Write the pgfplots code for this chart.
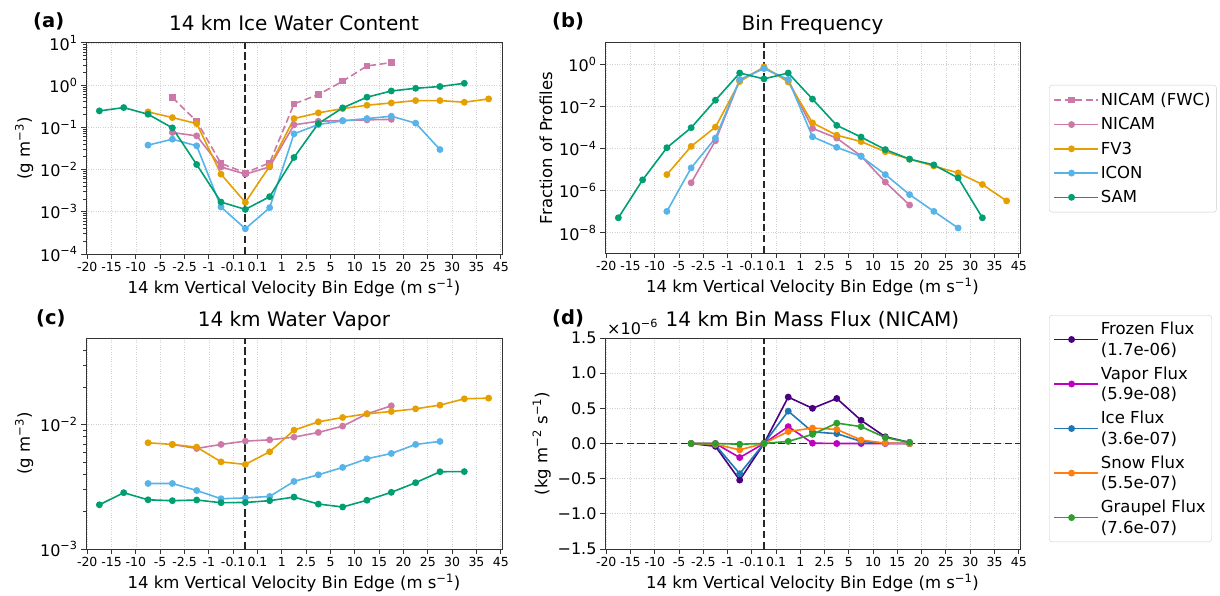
\documentclass[border=0pt]{standalone}
\usepackage{fontspec}
\setmainfont{DejaVu Sans}
\usepackage{pgfplots}
\pgfplotsset{compat=1.18}

\definecolor{cNICAM}{HTML}{CC79A7}
\definecolor{cFV}{HTML}{E69F00}
\definecolor{cICON}{HTML}{56B4E9}
\definecolor{cSAM}{HTML}{009E73}
\definecolor{cFrozen}{HTML}{4B0082}
\definecolor{cVapor}{HTML}{BF00BF}
\definecolor{cIce}{HTML}{1F77B4}
\definecolor{cSnow}{HTML}{FF7F0E}
\definecolor{cGraupel}{HTML}{2CA02C}

\newcommand{\ticksmall}{\fontsize{12.5}{15}\selectfont}
\newcommand{\tickbig}{\fontsize{16}{19}\selectfont}
\newcommand{\labfont}{\fontsize{16.5}{20}\selectfont}
\newcommand{\titfont}{\fontsize{20}{24}\selectfont}
\newcommand{\panfont}{\fontsize{19.5}{23}\selectfont\bfseries}

\pgfplotsset{
  panel/.style={
    scale only axis, anchor=south west,
    xmin=-0.05, xmax=17.05,
    xtick={0,...,17},
    xticklabels={-20,-15,-10,-5,-2.5,-1,-0.1,0.1,1,2.5,5,10,15,20,25,30,35,45},
    x tick label style={font=\ticksmall},
    y tick label style={font=\tickbig},
    label style={font=\labfont},
    title style={font=\titfont, at={(0.5,1)}, anchor=base, yshift=6pt},
    xlabel={14 km Vertical Velocity Bin Edge (m s\textsuperscript{−1})},
    grid=major,
    major grid style={dotted, black!18, line width=0.7pt},
    axis line style={black!80, line width=1pt},
    every tick/.style={black!80, line width=1pt},
    tick align=outside, tick pos=left,
    major tick length=5pt, minor tick length=3pt,
    every axis plot/.append style={line width=1.6pt, mark=*, mark size=2.6pt, mark options={solid}},
    /pgf/number format/assume math mode=true,
    legend cell align=left,
    legend image code/.code={\draw[mark repeat=2,mark phase=2,##1] plot coordinates {(0pt,0pt)(17.5pt,0pt)(35pt,0pt)}; \path (0pt,0pt) -- (44pt,0pt);},
    legend style={font=\labfont, draw=black!20, rounded corners=3pt, fill=white,
      anchor=north west, row sep=6.5pt, inner xsep=4pt, inner ysep=6pt},
  },
  vline/.style={black!85, line width=1.8pt, dash pattern=on 7.5pt off 3.3pt, mark=none, forget plot},
}

\begin{document}
\begin{tikzpicture}
\useasboundingbox (0,0) rectangle (1220pt,595pt);

% ---------------- (a)
\begin{axis}[panel, at={(86pt,341pt)}, width=416pt, height=211pt,
  ymode=log, ymin=1e-4, ymax=10,
  ytick={1e-4,1e-3,1e-2,1e-1,1,10},
  yticklabels={10\textsuperscript{−4},10\textsuperscript{−3},10\textsuperscript{−2},10\textsuperscript{−1},10\textsuperscript{0},10\textsuperscript{1}},
  minor ytick={2e-4,3e-4,4e-4,5e-4,6e-4,7e-4,8e-4,9e-4,2e-3,3e-3,4e-3,5e-3,6e-3,7e-3,8e-3,9e-3,0.02,0.03,0.04,0.05,0.06,0.07,0.08,0.09,0.2,0.3,0.4,0.5,0.6,0.7,0.8,0.9,2,3,4,5,6,7,8,9},
  ylabel={(g m\textsuperscript{−3})},
  title={14 km Ice Water Content},
  legend style={at={(2.315,0.801)}},
]
\addplot[vline] coordinates {(6.5,1e-4) (6.5,10)};
\addplot[cNICAM, dash pattern=on 7pt off 3.5pt, mark=square*, mark size=2.4pt] coordinates {
(3.5,0.509) (4.5,0.14) (5.5,0.014) (6.5,0.0084) (7.5,0.0145) (8.5,0.36) (9.5,0.6) (10.5,1.24) (11.5,2.86) (12.5,3.43)};
\addlegendentry{NICAM (FWC)}
\addplot[cNICAM] coordinates {
(3.5,0.0756) (4.5,0.063) (5.5,0.0116) (6.5,0.0078) (7.5,0.0116) (8.5,0.115) (9.5,0.14) (10.5,0.145) (11.5,0.151) (12.5,0.155)};
\addlegendentry{NICAM}
\addplot[cFV] coordinates {
(2.5,0.233) (3.5,0.171) (4.5,0.123) (5.5,0.0078) (6.5,0.00167) (7.5,0.0121) (8.5,0.162) (9.5,0.221) (10.5,0.279) (11.5,0.335) (12.5,0.38) (13.5,0.432) (14.5,0.432) (15.5,0.395) (16.5,0.473)};
\addlegendentry{FV3}
\addplot[cICON] coordinates {
(2.5,0.038) (3.5,0.0526) (4.5,0.0366) (5.5,0.0013) (6.5,0.000397) (7.5,0.00125) (8.5,0.0703) (9.5,0.117) (10.5,0.143) (11.5,0.162) (12.5,0.184) (13.5,0.126) (14.5,0.0299)};
\addlegendentry{ICON}
\addplot[cSAM] coordinates {
(0.5,0.246) (1.5,0.295) (2.5,0.205) (3.5,0.0975) (4.5,0.0132) (5.5,0.0017) (6.5,0.00114) (7.5,0.00228) (8.5,0.0194) (9.5,0.123) (10.5,0.29) (11.5,0.52) (12.5,0.73) (13.5,0.845) (14.5,0.93) (15.5,1.11)};
\addlegendentry{SAM}
\end{axis}

% ---------------- (b)
\begin{axis}[panel, at={(605pt,342pt)}, width=415pt, height=210pt,
  ymode=log, ymin=1.1e-9, ymax=10.7,
  ytick={1e-8,1e-6,1e-4,1e-2,1},
  yticklabels={10\textsuperscript{−8},10\textsuperscript{−6},10\textsuperscript{−4},10\textsuperscript{−2},10\textsuperscript{0}},
  ylabel={Fraction of Profiles},
  title={Bin Frequency},
]
\addplot[vline] coordinates {(6.5,1.1e-9) (6.5,10.7)};
\addplot[cNICAM] coordinates {
(3.5,2.4e-6) (4.5,2.4e-4) (5.5,0.18) (6.5,0.7) (7.5,0.18) (8.5,9.3e-4) (9.5,3.2e-4) (10.5,4.5e-5) (11.5,2.6e-6) (12.5,2.1e-7)};
\addplot[cFV] coordinates {
(2.5,5.9e-6) (3.5,1.3e-4) (4.5,1.07e-3) (5.5,0.156) (6.5,0.78) (7.5,0.15) (8.5,1.7e-3) (9.5,4.4e-4) (10.5,2.2e-4) (11.5,7.2e-5) (12.5,3.2e-5) (13.5,1.5e-5) (14.5,7.1e-6) (15.5,2.0e-6) (16.5,3.3e-7)};
\addplot[cICON] coordinates {
(2.5,1.05e-7) (3.5,1.23e-5) (4.5,3.2e-4) (5.5,0.195) (6.5,0.65) (7.5,0.195) (8.5,3.7e-4) (9.5,1.17e-4) (10.5,4.3e-5) (11.5,5.9e-6) (12.5,6.6e-7) (13.5,1.05e-7) (14.5,1.7e-8)};
\addplot[cSAM] coordinates {
(0.5,5.2e-8) (1.5,3.3e-6) (2.5,1.12e-4) (3.5,1e-3) (4.5,0.0204) (5.5,0.40) (6.5,0.21) (7.5,0.40) (8.5,0.023) (9.5,1.29e-3) (10.5,3.6e-4) (11.5,9.1e-5) (12.5,3.2e-5) (13.5,1.7e-5) (14.5,4.1e-6) (15.5,5.2e-8)};
\end{axis}

% ---------------- (c)
\begin{axis}[panel, at={(86pt,46pt)}, width=416pt, height=211pt,
  ymode=log, ymin=1e-3, ymax=0.05,
  ytick={1e-3,1e-2},
  yticklabels={10\textsuperscript{−3},10\textsuperscript{−2}},
  minor ytick={2e-3,3e-3,4e-3,5e-3,6e-3,7e-3,8e-3,9e-3,0.02,0.03,0.04},
  ylabel={(g m\textsuperscript{−3})},
  title={14 km Water Vapor},
]
\addplot[vline] coordinates {(6.5,1e-3) (6.5,0.05)};
\addplot[cNICAM] coordinates {
(3.5,6.95e-3) (4.5,6.45e-3) (5.5,6.95e-3) (6.5,7.39e-3) (7.5,7.57e-3) (8.5,7.96e-3) (9.5,8.68e-3) (10.5,9.76e-3) (11.5,0.01226) (12.5,0.01422)};
\addplot[cFV] coordinates {
(2.5,7.17e-3) (3.5,6.95e-3) (4.5,6.61e-3) (5.5,5.03e-3) (6.5,4.80e-3) (7.5,6.07e-3) (8.5,9.06e-3) (9.5,0.01057) (10.5,0.01146) (11.5,0.01226) (12.5,0.0128) (13.5,0.01345) (14.5,0.0144) (15.5,0.0162) (16.5,0.0164)};
\addplot[cICON] coordinates {
(2.5,3.37e-3) (3.5,3.37e-3) (4.5,2.96e-3) (5.5,2.54e-3) (6.5,2.58e-3) (7.5,2.65e-3) (8.5,3.50e-3) (9.5,3.96e-3) (10.5,4.54e-3) (11.5,5.33e-3) (12.5,5.88e-3) (13.5,6.95e-3) (14.5,7.35e-3)};
\addplot[cSAM] coordinates {
(0.5,2.27e-3) (1.5,2.84e-3) (2.5,2.49e-3) (3.5,2.45e-3) (4.5,2.48e-3) (5.5,2.36e-3) (6.5,2.37e-3) (7.5,2.45e-3) (8.5,2.62e-3) (9.5,2.30e-3) (10.5,2.18e-3) (11.5,2.47e-3) (12.5,2.86e-3) (13.5,3.42e-3) (14.5,4.19e-3) (15.5,4.2e-3)};
\end{axis}

% ---------------- (d)
\begin{axis}[panel, name=d, at={(605pt,46pt)}, width=415pt, height=211pt,
  ymin=-1.5, ymax=1.5,
  ytick={-1.5,-1,-0.5,0,0.5,1,1.5},
  yticklabels={−1.5,−1.0,−0.5,0.0,0.5,1.0,1.5},
  ylabel={(kg m\textsuperscript{−2} s\textsuperscript{−1})},
  title={14 km Bin Mass Flux (NICAM)},
  legend style={at={(1.07,1.109)}, cells={align=left}, row sep=6pt, inner ysep=5pt, font=\fontsize{16.5}{20.5}\selectfont},
]
\addplot[vline] coordinates {(6.5,-1.5) (6.5,1.5)};
\addplot[vline] coordinates {(-0.05,0) (17.05,0)};
\addplot[cFrozen] coordinates {
(3.5,0) (4.5,-0.04) (5.5,-0.52) (6.5,0) (7.5,0.66) (8.5,0.50) (9.5,0.64) (10.5,0.33) (11.5,0.095) (12.5,0.015)};
\addlegendentry{Frozen Flux\\(1.7e-06)}
\addplot[cVapor] coordinates {
(3.5,0) (4.5,0) (5.5,-0.20) (6.5,0) (7.5,0.24) (8.5,0.005) (9.5,0) (10.5,0) (11.5,0) (12.5,0)};
\addlegendentry{Vapor Flux\\(5.9e-08)}
\addplot[cIce] coordinates {
(3.5,0) (4.5,-0.02) (5.5,-0.43) (6.5,0) (7.5,0.46) (8.5,0.165) (9.5,0.14) (10.5,0.03) (11.5,0.003) (12.5,0)};
\addlegendentry{Ice Flux\\(3.6e-07)}
\addplot[cSnow] coordinates {
(3.5,0) (4.5,-0.01) (5.5,-0.09) (6.5,0) (7.5,0.17) (8.5,0.22) (9.5,0.20) (10.5,0.05) (11.5,0.005) (12.5,0)};
\addlegendentry{Snow Flux\\(5.5e-07)}
\addplot[cGraupel] coordinates {
(3.5,0) (4.5,0) (5.5,-0.01) (6.5,0) (7.5,0.03) (8.5,0.13) (9.5,0.29) (10.5,0.24) (11.5,0.085) (12.5,0.015)};
\addlegendentry{Graupel Flux\\(7.6e-07)}
\end{axis}
\node[anchor=base west, font=\tickbig, inner sep=0pt] at ([xshift=2pt,yshift=4pt]d.north west) {×10\textsuperscript{−6}};

% panel labels
\node[anchor=base west, font=\panfont, inner sep=0pt] at (33pt,567pt) {(a)};
\node[anchor=base west, font=\panfont, inner sep=0pt] at (552pt,567pt) {(b)};
\node[anchor=base west, font=\panfont, inner sep=0pt] at (36pt,271pt) {(c)};
\node[anchor=base west, font=\panfont, inner sep=0pt] at (552pt,271pt) {(d)};
\end{tikzpicture}
\end{document}
